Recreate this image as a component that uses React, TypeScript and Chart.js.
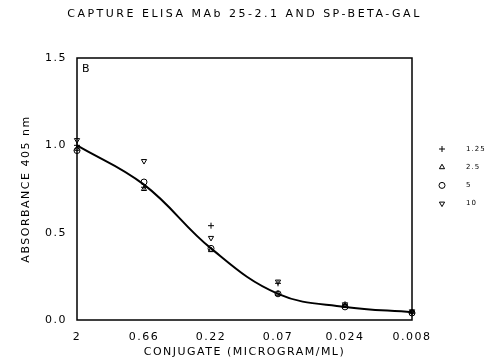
import React, { useEffect, useRef } from "react";
import { Chart, registerables } from "chart.js";
import { drawPoint } from "chart.js/helpers";

Chart.register(...registerables);

const TITLE = "CAPTURE ELISA MAb 25-2.1 AND SP-BETA-GAL";
const X_TITLE = "CONJUGATE (MICROGRAM/ML)";
const Y_TITLE = "ABSORBANCE 405 nm";
const PANEL = "B";

const categories = ["2", "0.66", "0.22", "0.07", "0.024", "0.008"];
const yTicks = [0.0, 0.5, 1.0, 1.5];

// series keyed by conjugate dilution legend
const s125 = [1.0, 0.76, 0.54, 0.21, 0.09, 0.045];
const s25 = [0.98, 0.75, 0.4, 0.15, 0.08, 0.045];
const s5 = [0.97, 0.79, 0.41, 0.15, 0.075, 0.04];
const s10 = [1.03, 0.91, 0.47, 0.22, 0.09, 0.05];
const fit = [1.0, 0.775, 0.41, 0.15, 0.075, 0.045];

const seriesLabels = ["1.25", "2.5", "5", "10"];

const FONT = "'DejaVu Sans', sans-serif";

const framePlugin = {
  id: "frame",
  beforeLayout(chart: any) {
    try { chart.ctx.letterSpacing = "1.5px"; } catch (e) {}
  },
  beforeDraw(chart: any) {
    try { chart.ctx.letterSpacing = "1.5px"; } catch (e) {}
  },
  afterDraw(chart: any) {
    const { ctx, chartArea, width } = chart;
    const { left, right, top, bottom } = chartArea;
    ctx.save();
    ctx.strokeStyle = "#000";
    ctx.lineWidth = 1.5;
    ctx.strokeRect(left, top, right - left, bottom - top);
    ctx.fillStyle = "#000";
    ctx.textBaseline = "middle";
    // title
    try { ctx.letterSpacing = "2.5px"; } catch (e) {}
    ctx.font = `11px ${FONT}`;
    ctx.textAlign = "center";
    ctx.fillText(TITLE, width / 2, 14);
    try { ctx.letterSpacing = "1px"; } catch (e) {}
    // panel letter
    ctx.font = `11px ${FONT}`;
    ctx.textAlign = "left";
    ctx.fillText(PANEL, left + 5, top + 11);
    // legend
    const ds = chart.data.datasets.filter((d: any) => d.legendItem);
    ds.forEach((d: any, i: number) => {
      const y = 149 + i * 18.2;
      ctx.strokeStyle = "#000";
      ctx.fillStyle = "rgba(0,0,0,0)";
      ctx.lineWidth = 1;
      drawPoint(ctx, { pointStyle: d.pointStyle, rotation: d.pointRotation || 0, radius: 3, borderWidth: 1 }, right + 30, y);
      ctx.fillStyle = "#000";
      ctx.font = `7px ${FONT}`;
      ctx.textAlign = "left";
      ctx.fillText(d.label, right + 54, y);
    });
    ctx.restore();
  },
};

function mk(label: string, data: number[], style: string, rot = 0) {
  return {
    label,
    data,
    legendItem: true,
    showLine: false,
    pointStyle: style,
    pointRotation: rot,
    pointRadius: 3,
    pointBorderWidth: 1,
    pointBorderColor: "#000",
    pointBackgroundColor: "rgba(0,0,0,0)",
    borderColor: "#000",
    backgroundColor: "rgba(0,0,0,0)",
    clip: false,
  };
}

export default function App() {
  const ref = useRef<HTMLCanvasElement>(null);
  useEffect(() => {
    const chart = new Chart(ref.current!, {
      type: "line",
      data: {
        labels: categories,
        datasets: [
          {
            label: "fit",
            data: fit,
            borderColor: "#000",
            borderWidth: 2,
            pointRadius: 0,
            tension: 0.4,
            fill: false,
          } as any,
          mk(seriesLabels[0], s125, "cross"),
          mk(seriesLabels[1], s25, "triangle"),
          mk(seriesLabels[2], s5, "circle"),
          mk(seriesLabels[3], s10, "triangle", 180),
        ],
      },
      options: {
        animation: false,
        responsive: false,
        layout: { padding: { right: 77, left: 0, top: 58, bottom: 0 } },
        plugins: {
          legend: { display: false },
          tooltip: { enabled: false },
          title: { display: false },
        },
        scales: {
          x: {
            type: "category",
            offset: false,
            grid: { display: false, drawTicks: false },
            border: { display: false },
            ticks: { color: "#000", padding: 11, maxRotation: 0, font: { family: FONT, size: 11 } },
            title: {
              display: true,
              text: X_TITLE,
              color: "#000",
              font: { family: FONT, size: 11, lineHeight: 1.2 },
              padding: { top: 0, bottom: 3 },
            },
            afterFit(scale: any) { scale.height = 42; },
          },
          y: {
            min: 0,
            max: 1.5,
            grid: { display: false, drawTicks: false },
            border: { display: false },
            afterBuildTicks(scale: any) { scale.ticks = yTicks.map((v) => ({ value: v })); },
            ticks: {
              color: "#000",
              padding: 10,
              font: { family: FONT, size: 11 },
              callback: (v: any) => Number(v).toFixed(1),
            },
            title: {
              display: true,
              text: Y_TITLE,
              color: "#000",
              font: { family: FONT, size: 11, lineHeight: 1.2 },
              padding: { top: 20, bottom: 0 },
            },
            afterFit(scale: any) { scale.width = 77; },
          },
        },
      } as any,
      plugins: [framePlugin],
    });
    return () => chart.destroy();
  }, []);
  return (
    <div style={{ position: "fixed", left: 0, top: 0, width: 489, height: 362, background: "#fff" }}>
      <canvas ref={ref} width={489} height={362} style={{ width: 489, height: 362 }} />
    </div>
  );
}
